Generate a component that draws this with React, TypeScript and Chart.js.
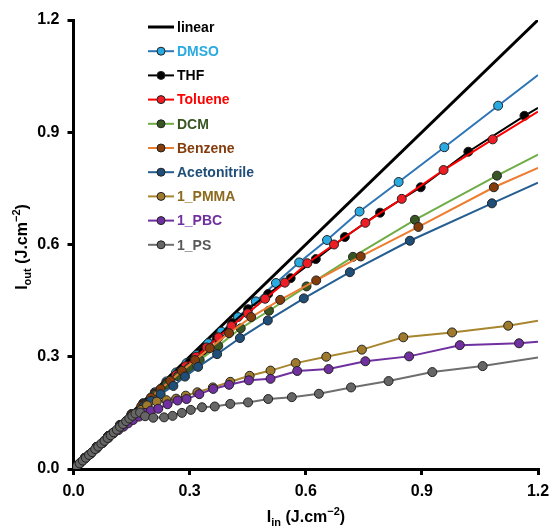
import React, { useEffect, useRef } from "react";
import { Chart, registerables } from "chart.js";

Chart.register(...registerables);

type P = [number, number];

const xTicks = [0, 0.3, 0.6, 0.9, 1.2];
const yTicks = [0, 0.3, 0.6, 0.9, 1.2];

const linear: P[] = [[0, 0], [1.2, 1.2]];
const dmso: P[] = [[0, 0], [0.03, 0.03], [0.06, 0.059], [0.09, 0.088], [0.12, 0.118], [0.15, 0.147], [0.18, 0.176], [0.21, 0.205], [0.24, 0.234], [0.265, 0.258], [0.292, 0.283], [0.318, 0.305], [0.348, 0.336], [0.382, 0.367], [0.425, 0.406], [0.471, 0.448], [0.523, 0.497], [0.583, 0.552], [0.655, 0.612], [0.739, 0.688], [0.84, 0.767], [0.958, 0.86], [1.097, 0.971], [1.2, 1.053]];
const thf: P[] = [[0, 0], [0.03, 0.03], [0.06, 0.059], [0.09, 0.088], [0.12, 0.117], [0.15, 0.146], [0.18, 0.174], [0.21, 0.202], [0.24, 0.23], [0.27, 0.257], [0.3, 0.285], [0.335, 0.316], [0.37, 0.35], [0.41, 0.39], [0.451, 0.427], [0.503, 0.468], [0.561, 0.51], [0.626, 0.561], [0.701, 0.62], [0.792, 0.685], [0.897, 0.753], [1.02, 0.848], [1.165, 0.944], [1.2, 0.965]];
const toluene: P[] = [[0, 0], [0.03, 0.03], [0.06, 0.059], [0.09, 0.088], [0.12, 0.117], [0.15, 0.145], [0.18, 0.173], [0.21, 0.201], [0.24, 0.228], [0.265, 0.251], [0.29, 0.275], [0.317, 0.3], [0.344, 0.325], [0.375, 0.352], [0.408, 0.382], [0.45, 0.416], [0.495, 0.455], [0.546, 0.498], [0.604, 0.55], [0.673, 0.6], [0.754, 0.658], [0.848, 0.722], [0.956, 0.799], [1.083, 0.881], [1.2, 0.955]];
const dcm: P[] = [[0, 0], [0.03, 0.03], [0.06, 0.059], [0.09, 0.087], [0.12, 0.116], [0.15, 0.144], [0.18, 0.171], [0.21, 0.198], [0.24, 0.225], [0.27, 0.248], [0.298, 0.27], [0.326, 0.291], [0.374, 0.329], [0.432, 0.376], [0.505, 0.423], [0.602, 0.488], [0.722, 0.567], [0.882, 0.666], [1.094, 0.784], [1.2, 0.84]];
const benzene: P[] = [[0, 0], [0.03, 0.03], [0.06, 0.059], [0.09, 0.088], [0.12, 0.116], [0.15, 0.145], [0.175, 0.168], [0.2, 0.191], [0.225, 0.214], [0.25, 0.236], [0.28, 0.262], [0.314, 0.291], [0.352, 0.323], [0.402, 0.363], [0.459, 0.406], [0.534, 0.452], [0.627, 0.504], [0.742, 0.568], [0.891, 0.647], [1.086, 0.753], [1.2, 0.805]];
const acetonitrile: P[] = [[0, 0], [0.03, 0.029], [0.06, 0.058], [0.09, 0.086], [0.12, 0.114], [0.15, 0.141], [0.18, 0.166], [0.2, 0.182], [0.225, 0.2], [0.258, 0.222], [0.288, 0.247], [0.322, 0.273], [0.371, 0.307], [0.43, 0.35], [0.502, 0.397], [0.595, 0.456], [0.714, 0.526], [0.869, 0.61], [1.081, 0.71], [1.2, 0.765]];
const pmma: P[] = [[0, 0], [0.02, 0.019], [0.04, 0.038], [0.06, 0.057], [0.08, 0.076], [0.1, 0.095], [0.12, 0.113], [0.14, 0.131], [0.16, 0.148], [0.175, 0.158], [0.19, 0.17], [0.215, 0.18], [0.24, 0.184], [0.265, 0.188], [0.29, 0.196], [0.32, 0.205], [0.36, 0.218], [0.405, 0.233], [0.455, 0.249], [0.509, 0.263], [0.574, 0.283], [0.653, 0.3], [0.745, 0.319], [0.852, 0.352], [0.978, 0.365], [1.123, 0.383], [1.2, 0.396]];
const pbc: P[] = [[0, 0], [0.015, 0.014], [0.03, 0.028], [0.045, 0.041], [0.06, 0.055], [0.075, 0.069], [0.09, 0.083], [0.103, 0.095], [0.116, 0.104], [0.129, 0.113], [0.141, 0.122], [0.154, 0.131], [0.169, 0.14], [0.185, 0.15], [0.2, 0.156], [0.219, 0.161], [0.243, 0.173], [0.269, 0.183], [0.292, 0.187], [0.325, 0.2], [0.361, 0.214], [0.402, 0.225], [0.453, 0.237], [0.509, 0.241], [0.578, 0.262], [0.659, 0.267], [0.754, 0.288], [0.867, 0.301], [0.998, 0.331], [1.151, 0.336], [1.2, 0.34]];
const ps: P[] = [[0, 0], [0.008, 0.0075], [0.016, 0.015], [0.024, 0.0225], [0.032, 0.03], [0.04, 0.0375], [0.048, 0.045], [0.056, 0.053], [0.064, 0.06], [0.072, 0.068], [0.08, 0.075], [0.088, 0.083], [0.096, 0.09], [0.104, 0.098], [0.112, 0.105], [0.12, 0.113], [0.128, 0.12], [0.136, 0.128], [0.144, 0.135], [0.152, 0.142], [0.16, 0.148], [0.172, 0.151], [0.185, 0.141], [0.206, 0.137], [0.234, 0.138], [0.256, 0.142], [0.28, 0.15], [0.303, 0.158], [0.332, 0.165], [0.365, 0.167], [0.405, 0.174], [0.451, 0.178], [0.503, 0.187], [0.564, 0.192], [0.634, 0.201], [0.717, 0.218], [0.814, 0.235], [0.927, 0.259], [1.057, 0.275], [1.2, 0.298]];

const seriesNames = ["linear", "DMSO", "THF", "Toluene", "DCM", "Benzene", "Acetonitrile", "1_PMMA", "1_PBC", "1_PS"];
const seriesData = [linear, dmso, thf, toluene, dcm, benzene, acetonitrile, pmma, pbc, ps];
const lineColors = ["#000000", "#2E75B6", "#000000", "#FF0000", "#70AD47", "#ED7D31", "#255E91", "#A8862F", "#7030A0", "#6E6E6E"];
const markerColors = ["#000000", "#29ABE2", "#000000", "#EE1C25", "#375623", "#843C0C", "#1F4E79", "#A07A2C", "#7030A0", "#666666"];
const textColors = ["#000000", "#29ABE2", "#000000", "#FF0000", "#375623", "#843C0C", "#1F4E79", "#8C6A1E", "#7030A0", "#595959"];

const FONT = "'Liberation Sans', Arial, sans-serif";

function drawRich(ctx: CanvasRenderingContext2D, parts: { t: string; k: "n" | "sub" | "sup" }[], cx: number, baseY: number) {
  const fontFor = (k: string) => (k === "n" ? `bold 16px ${FONT}` : `bold 11px ${FONT}`);
  let total = 0;
  for (const p of parts) {
    ctx.font = fontFor(p.k);
    total += ctx.measureText(p.t).width;
  }
  let x = cx - total / 2;
  ctx.textBaseline = "alphabetic";
  ctx.textAlign = "left";
  for (const p of parts) {
    ctx.font = fontFor(p.k);
    const dy = p.k === "sub" ? 4 : p.k === "sup" ? -7 : 0;
    ctx.fillText(p.t, x, baseY + dy);
    x += ctx.measureText(p.t).width;
  }
}

const overlayPlugin = {
  id: "overlay",
  afterDraw(chart: any) {
    const ctx: CanvasRenderingContext2D = chart.ctx;
    ctx.save();
    ctx.fillStyle = "#000";
    drawRich(ctx, [{ t: "I", k: "n" }, { t: "in", k: "sub" }, { t: " (J.cm", k: "n" }, { t: "\u22122", k: "sup" }, { t: ")", k: "n" }], 306, 522);
    ctx.save();
    ctx.translate(27, 247);
    ctx.rotate(-Math.PI / 2);
    drawRich(ctx, [{ t: "I", k: "n" }, { t: "out", k: "sub" }, { t: " (J.cm", k: "n" }, { t: "\u22122", k: "sup" }, { t: ")", k: "n" }], 0, 0);
    ctx.restore();
    const x0 = 148, x1 = 174, tx = 177, y0 = 27, dy = 24.2;
    seriesNames.forEach((name, i) => {
      const y = y0 + i * dy;
      ctx.strokeStyle = lineColors[i];
      ctx.lineWidth = i === 0 ? 3 : 2;
      ctx.beginPath();
      ctx.moveTo(x0, y);
      ctx.lineTo(x1, y);
      ctx.stroke();
      if (i > 0) {
        ctx.beginPath();
        ctx.arc((x0 + x1) / 2, y, 4, 0, Math.PI * 2);
        ctx.fillStyle = markerColors[i];
        ctx.fill();
        ctx.lineWidth = 1;
        ctx.strokeStyle = "#222";
        ctx.stroke();
      }
      ctx.font = `bold 14px ${FONT}`;
      ctx.fillStyle = textColors[i];
      ctx.textAlign = "left";
      ctx.textBaseline = "middle";
      ctx.fillText(name, tx, y + 1);
    });
    ctx.restore();
  },
};

export default function App() {
  const ref = useRef<HTMLCanvasElement | null>(null);
  useEffect(() => {
    document.body.style.margin = "0";
    if (!ref.current) return;
    const datasets = seriesData.map((d, i) => ({
      label: seriesNames[i],
      data: d.map(([x, y]) => ({ x, y })),
      borderColor: lineColors[i],
      backgroundColor: markerColors[i],
      borderWidth: i === 0 ? 3 : 2,
      pointRadius: i === 0 ? 0 : (c: any) => (c.raw && c.raw.x >= 1.2 ? 0 : 4.5),
      pointBackgroundColor: markerColors[i],
      pointBorderColor: "#222222",
      pointBorderWidth: 1,
      tension: 0,
      order: seriesNames.length - 1 - i,
    }));
    const tickFont = { family: FONT, size: 16, weight: "bold" as const };
    const chart = new Chart(ref.current, {
      type: "line",
      data: { datasets },
      plugins: [overlayPlugin],
      options: {
        responsive: false,
        animation: false,
        devicePixelRatio: 1,
        layout: { padding: { top: 20, right: 14, left: 0, bottom: 0 } },
        plugins: { legend: { display: false }, tooltip: { enabled: false } },
        scales: {
          x: {
            type: "linear",
            min: 0,
            max: 1.2,
            afterBuildTicks: (s: any) => { s.ticks = xTicks.map((v) => ({ value: v })); },
            afterFit: (s: any) => { s.height = 61; s.paddingRight = 0; s.paddingLeft = 0; },
            ticks: { font: tickFont, color: "#000", padding: 7, callback: (v: any) => Number(v).toFixed(1), maxRotation: 0 },
            grid: { drawOnChartArea: false, drawTicks: true, tickLength: 6, color: "#000", lineWidth: 3 },
            border: { display: true, color: "#000", width: 3 },
          },
          y: {
            type: "linear",
            min: 0,
            max: 1.2,
            afterBuildTicks: (s: any) => { s.ticks = yTicks.map((v) => ({ value: v })); },
            afterFit: (s: any) => { s.width = 73.5; s.paddingTop = 0; s.paddingBottom = 0; },
            ticks: { font: tickFont, color: "#000", padding: 8, callback: (v: any) => Number(v).toFixed(1) },
            grid: { drawOnChartArea: false, drawTicks: true, tickLength: 6, color: "#000", lineWidth: 3 },
            border: { display: true, color: "#000", width: 3 },
          },
        },
      } as any,
    });
    return () => chart.destroy();
  }, []);
  return (
    <div style={{ width: 552, height: 530 }}>
      <canvas ref={ref} width={552} height={530} style={{ display: "block" }} />
    </div>
  );
}
